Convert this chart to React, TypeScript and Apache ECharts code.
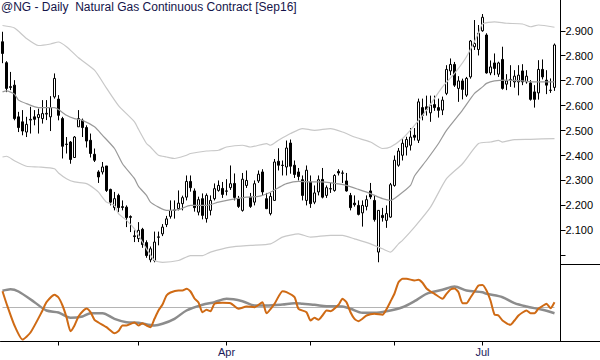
import React, { useEffect, useRef } from 'react';
import * as echarts from 'echarts';

const TITLE = '@NG - Daily  Natural Gas Continuous Contract [Sep16]';
const START_DATE = '2016-01-11';
const HOLIDAYS = ['2016-01-18', '2016-02-15', '2016-03-25', '2016-05-30', '2016-07-04'];
const SLOT_COUNT = 140;
const SHOWN_MONTHS: Record<number, string> = { 3: 'Apr', 6: 'Jul' };

const OPEN = [
  2.856, 2.772, 2.676, 2.682, 2.555, 2.535, 2.494, 2.542, 2.555, 2.552,
  2.548, 2.566, 2.555, 2.635, 2.626, 2.548, 2.444, 2.454, 2.392, 2.515,
  2.541, 2.512, 2.461, 2.405, 2.334, 2.334, 2.358, 2.264, 2.191, 2.240,
  2.195, 2.193, 2.155, 2.078, 2.067, 2.104, 2.051, 1.982, 1.979, 2.072,
  2.086, 2.123, 2.156, 2.180, 2.187, 2.207, 2.233, 2.296, 2.258, 2.173,
  2.227, 2.147, 2.180, 2.227, 2.260, 2.268, 2.258, 2.271, 2.288, 2.227,
  2.180, 2.280, 2.233, 2.213, 2.298, 2.334, 2.227, 2.167, 2.220, 2.377,
  2.361, 2.354, 2.450, 2.361, 2.334, 2.303, 2.220, 2.294, 2.213, 2.254,
  2.304, 2.240, 2.267, 2.260, 2.336, 2.330, 2.298, 2.240, 2.209, 2.200,
  2.170, 2.196, 2.258, 2.220, 2.013, 2.160, 2.140, 2.153, 2.280, 2.361,
  2.401, 2.434, 2.441, 2.481, 2.461, 2.592, 2.595, 2.571, 2.604, 2.592,
  2.582, 2.649, 2.739, 2.765, 2.669, 2.699, 2.642, 2.715, 2.836, 2.825,
  2.900, 2.883, 2.731, 2.771, 2.726, 2.785, 2.686, 2.705, 2.695, 2.695,
  2.739, 2.695, 2.691, 2.655, 2.651, 2.745, 2.702, 2.662, 2.673,
];
const HIGH = [
  2.896, 2.778, 2.735, 2.702, 2.575, 2.582, 2.555, 2.595, 2.582, 2.588,
  2.622, 2.622, 2.638, 2.729, 2.642, 2.555, 2.474, 2.458, 2.478, 2.582,
  2.548, 2.521, 2.488, 2.428, 2.341, 2.374, 2.358, 2.267, 2.254, 2.247,
  2.220, 2.200, 2.160, 2.100, 2.133, 2.110, 2.060, 2.035, 2.095, 2.095,
  2.125, 2.158, 2.220, 2.220, 2.260, 2.239, 2.320, 2.320, 2.268, 2.235,
  2.248, 2.248, 2.240, 2.288, 2.300, 2.294, 2.305, 2.360, 2.328, 2.238,
  2.330, 2.340, 2.250, 2.300, 2.340, 2.345, 2.250, 2.250, 2.386, 2.429,
  2.380, 2.460, 2.464, 2.380, 2.350, 2.320, 2.360, 2.320, 2.280, 2.320,
  2.350, 2.280, 2.290, 2.325, 2.345, 2.340, 2.330, 2.250, 2.240, 2.220,
  2.220, 2.240, 2.290, 2.240, 2.180, 2.190, 2.200, 2.290, 2.400, 2.430,
  2.470, 2.475, 2.510, 2.510, 2.628, 2.628, 2.640, 2.640, 2.640, 2.628,
  2.636, 2.762, 2.789, 2.775, 2.718, 2.708, 2.715, 2.863, 2.943, 2.923,
  2.967, 2.890, 2.781, 2.809, 2.776, 2.836, 2.726, 2.762, 2.742, 2.762,
  2.766, 2.742, 2.702, 2.682, 2.782, 2.785, 2.742, 2.709, 2.849,
];
const LOW = [
  2.770, 2.654, 2.662, 2.541, 2.494, 2.481, 2.474, 2.488, 2.521, 2.488,
  2.528, 2.542, 2.498, 2.628, 2.541, 2.388, 2.408, 2.367, 2.390, 2.515,
  2.474, 2.432, 2.392, 2.374, 2.290, 2.324, 2.254, 2.200, 2.180, 2.173,
  2.180, 2.113, 2.093, 2.053, 2.053, 2.030, 1.990, 1.972, 1.972, 2.040,
  2.077, 2.113, 2.147, 2.147, 2.180, 2.180, 2.220, 2.255, 2.175, 2.160,
  2.144, 2.131, 2.160, 2.220, 2.255, 2.230, 2.240, 2.262, 2.220, 2.190,
  2.175, 2.270, 2.190, 2.200, 2.290, 2.240, 2.185, 2.160, 2.220, 2.340,
  2.320, 2.320, 2.327, 2.310, 2.300, 2.220, 2.200, 2.190, 2.205, 2.240,
  2.228, 2.230, 2.250, 2.255, 2.320, 2.290, 2.255, 2.180, 2.195, 2.160,
  2.115, 2.180, 2.225, 2.135, 1.972, 2.135, 2.110, 2.150, 2.275, 2.355,
  2.380, 2.400, 2.420, 2.460, 2.450, 2.541, 2.560, 2.535, 2.579, 2.552,
  2.562, 2.642, 2.722, 2.675, 2.615, 2.625, 2.635, 2.708, 2.823, 2.801,
  2.896, 2.728, 2.722, 2.722, 2.715, 2.664, 2.662, 2.675, 2.672, 2.641,
  2.682, 2.688, 2.620, 2.592, 2.624, 2.705, 2.646, 2.651, 2.659,
];
const CLOSE = [
  2.809, 2.669, 2.673, 2.548, 2.512, 2.498, 2.525, 2.545, 2.545, 2.564,
  2.568, 2.569, 2.592, 2.709, 2.561, 2.437, 2.446, 2.384, 2.474, 2.548,
  2.512, 2.458, 2.408, 2.381, 2.314, 2.354, 2.260, 2.213, 2.227, 2.191,
  2.192, 2.151, 2.152, 2.075, 2.100, 2.043, 1.999, 2.026, 2.053, 2.074,
  2.113, 2.146, 2.180, 2.182, 2.209, 2.231, 2.296, 2.271, 2.191, 2.223,
  2.160, 2.240, 2.220, 2.267, 2.280, 2.244, 2.257, 2.287, 2.232, 2.196,
  2.305, 2.300, 2.196, 2.287, 2.325, 2.254, 2.187, 2.236, 2.374, 2.361,
  2.360, 2.430, 2.357, 2.324, 2.316, 2.240, 2.341, 2.207, 2.250, 2.303,
  2.233, 2.271, 2.266, 2.320, 2.330, 2.329, 2.258, 2.191, 2.203, 2.164,
  2.200, 2.223, 2.234, 2.143, 2.180, 2.151, 2.167, 2.283, 2.381, 2.418,
  2.449, 2.464, 2.474, 2.473, 2.615, 2.561, 2.584, 2.602, 2.592, 2.581,
  2.622, 2.745, 2.765, 2.682, 2.699, 2.665, 2.709, 2.859, 2.849, 2.890,
  2.954, 2.731, 2.755, 2.749, 2.771, 2.669, 2.699, 2.704, 2.718, 2.722,
  2.695, 2.718, 2.625, 2.625, 2.745, 2.715, 2.682, 2.661, 2.843,
];

// [bar index, price]
const MOVING_AVG = [
  [0, 2.655], [1, 2.659], [3, 2.646], [4, 2.622], [6, 2.608], [9, 2.592], [13, 2.592],
  [14, 2.584], [16, 2.561], [18, 2.548], [20, 2.541], [23, 2.515], [25, 2.481], [28, 2.428],
  [30, 2.367], [33, 2.307], [34, 2.276], [36, 2.240], [37, 2.213], [39, 2.193], [41, 2.180],
  [44, 2.183], [47, 2.200], [51, 2.200], [54, 2.213], [57, 2.223], [61, 2.233], [64, 2.236],
  [67, 2.253], [69, 2.271], [71, 2.287], [74, 2.296], [77, 2.294], [80, 2.294], [84, 2.286],
  [86, 2.280], [89, 2.264], [92, 2.247], [95, 2.227], [97, 2.220], [99, 2.240], [102, 2.280],
  [103, 2.318], [106, 2.381], [109, 2.448], [111, 2.501], [115, 2.582], [118, 2.649],
  [120, 2.675], [121, 2.689], [123, 2.699], [126, 2.702], [130, 2.699], [133, 2.695],
  [138, 2.695],
];
const UPPER_BAND = [
  [0, 2.921], [3, 2.911], [6, 2.869], [9, 2.841], [12, 2.847], [14, 2.855], [16, 2.836],
  [19, 2.792], [23, 2.742], [26, 2.670], [29, 2.600], [33, 2.535], [34, 2.505], [36, 2.448],
  [37, 2.434], [39, 2.401], [41, 2.394], [43, 2.388], [46, 2.401], [47, 2.408], [51, 2.418],
  [54, 2.421], [56, 2.434], [60, 2.441], [62, 2.434], [66, 2.448], [67, 2.441], [69, 2.461],
  [72, 2.488], [75, 2.508], [78, 2.501], [82, 2.508], [85, 2.494], [88, 2.474], [92, 2.454],
  [95, 2.428], [97, 2.434], [100, 2.468], [103, 2.521], [106, 2.582], [110, 2.675],
  [113, 2.729], [116, 2.796], [119, 2.890], [120, 2.927], [123, 2.936], [126, 2.930],
  [130, 2.927], [132, 2.916], [134, 2.923], [138, 2.914],
];
const LOWER_BAND = [
  [0, 2.394], [1, 2.397], [3, 2.379], [6, 2.357], [9, 2.354], [13, 2.347], [14, 2.330],
  [16, 2.307], [18, 2.294], [21, 2.287], [23, 2.267], [24, 2.253], [26, 2.213], [28, 2.200],
  [29, 2.167], [31, 2.140], [33, 2.106], [34, 2.080], [36, 2.026], [38, 1.979], [40, 1.972],
  [44, 1.979], [47, 1.999], [50, 1.999], [52, 2.013], [57, 2.033], [62, 2.040], [67, 2.046],
  [70, 2.073], [74, 2.086], [77, 2.073], [82, 2.080], [85, 2.080], [88, 2.066], [92, 2.046],
  [95, 2.026], [97, 2.013], [99, 2.046], [100, 2.060], [103, 2.113], [107, 2.193],
  [111, 2.307], [115, 2.367], [119, 2.448], [122, 2.454], [124, 2.461], [125, 2.454],
  [128, 2.464], [132, 2.465], [138, 2.468],
];

// oscillator panel, [bar index, value]
const OSC_FAST = [
  [0, 16.3], [1, 4], [3, -18], [5, -32], [7, -25], [10, -3], [11, 5.3], [13, 12.7], [14, 10],
  [15, 2], [16, -9.7], [17, -23.7], [18, -18], [19, -9], [20, -4], [21, -1], [22, -4.7],
  [23, -12.3], [24, -15], [26, -19.7], [28, -25.7], [29, -23.5], [30, -18], [31, -18],
  [33, -15], [34, -18], [35, -15.7], [36, -18], [37, -19.7], [38, -11.3], [39, -3], [40, 3],
  [41, 12], [42, 15], [44, 17], [45, 17], [46, 18.7], [47, 16], [48, 9], [49, 5], [50, -4.7],
  [51, -2.3], [52, -3.7], [53, 3.7], [55, 4.7], [57, 4.3], [59, -1.3], [61, 1], [63, 0.3],
  [65, 5.3], [66, -5.7], [68, 3.7], [70, 16.3], [71, 15.3], [73, 10.3], [74, -1.3],
  [76, -4.7], [77, -13], [78, -10.3], [79, -12.3], [80, -8], [81, -3], [82, -3.7], [84, 2.7],
  [85, 8.7], [86, 5.3], [87, -4.7], [88, -11.3], [89, -13.7], [90, -11.3], [91, -8],
  [93, -6.3], [95, -7.3], [96, -1.7], [97, 6], [98, 14], [99, 25.3], [100, 28.7], [101, 28.7],
  [103, 27], [104, 27.7], [105, 24.7], [106, 19], [107, 16], [108, 13.7], [110, 8.7],
  [111, 13.7], [112, 18], [113, 19], [114, 15.3], [115, 4.3], [116, 4.3], [117, 10],
  [118, 16], [119, 22], [120, 22.5], [121, 17], [122, 7], [123, -7], [124, -8], [125, -13],
  [127, -17.3], [128, -13], [129, -8], [130, -5], [131, -3], [132, -5.7], [133, -5.7],
  [134, -1], [135, 1.5], [136, 3.7], [137, -0.7], [138, 5.3],
];
const OSC_SLOW = [
  [0, 16.7], [2, 18.3], [4, 16], [8, 5.3], [11, -3], [14, -5], [17, -10.3], [20, -9],
  [22, -5.7], [25, -5.7], [28, -11.3], [31, -14.7], [34, -15.3], [38, -18], [40, -16.3],
  [43, -11.3], [46, -3], [50, 2.7], [53, 5.3], [56, 8.7], [60, 6.3], [63, 2], [66, 2],
  [70, 3], [73, 4.3], [75, 3.7], [78, 2.7], [81, 1.3], [85, 1], [87, -1.3], [90, -5.3],
  [93, -5.3], [96, -3.7], [100, 0.3], [103, 6.3], [106, 13.7], [110, 17.7], [113, 21],
  [116, 17], [120, 15.3], [121, 13.7], [125, 10.3], [128, 4.3], [131, 1], [135, -2.3],
  [138, -5.7],
];
const OSC_ZERO = 0;

const PRICE_TICKS = [2.0, 2.1, 2.2, 2.3, 2.4, 2.5, 2.6, 2.7, 2.8, 2.9];
const PRICE_LABELS = [2.1, 2.2, 2.3, 2.4, 2.5, 2.6, 2.7, 2.8, 2.9];

function tradingDays(start: string, count: number): string[] {
  const out: string[] = [];
  const d = new Date(start + 'T00:00:00Z');
  while (out.length < count) {
    const wd = d.getUTCDay();
    const s = d.toISOString().slice(0, 10);
    if (wd !== 0 && wd !== 6 && HOLIDAYS.indexOf(s) < 0) out.push(s);
    d.setUTCDate(d.getUTCDate() + 1);
  }
  return out;
}

const FONT = '"Liberation Sans", Arial, sans-serif';

export default function App() {
  const ref = useRef<HTMLDivElement>(null);
  useEffect(() => {
    document.body.style.margin = '0';
    if (!ref.current) return;
    const chart = echarts.init(ref.current, undefined, { renderer: 'svg' });
    const dates = tradingDays(START_DATE, SLOT_COUNT);
    const month = (i: number) => parseInt(dates[i].slice(5, 7), 10) - 1;
    const isMonthStart = (i: number) => i > 0 && month(i) !== month(i - 1);
    const lastIdx = CLOSE.length - 1;

    const candles = OPEN.map((o, i) => [o, CLOSE[i], LOW[i], HIGH[i]]);

    chart.setOption({
      animation: false,
      backgroundColor: '#ffffff',
      title: {
        text: TITLE,
        left: 1,
        top: 1,
        padding: 0,
        textStyle: { fontFamily: FONT, fontSize: 12, fontWeight: 'normal', color: '#14144a' },
      },
      grid: [
        { left: 0.5, right: 39.5, top: 0, height: 264.5, outerBoundsMode: 'none' },
        { left: 0.5, right: 39.5, top: 264.5, height: 77, outerBoundsMode: 'none' },
      ],
      xAxis: [
        { type: 'category', gridIndex: 0, data: dates, boundaryGap: true, show: false },
        {
          type: 'category',
          gridIndex: 1,
          data: dates,
          boundaryGap: true,
          axisLine: { show: true, onZero: false, lineStyle: { color: '#000', width: 1 } },
          axisTick: {
            show: true,
            alignWithLabel: true,
            length: 4,
            interval: (i: number) => isMonthStart(i),
            lineStyle: { color: '#000', width: 1 },
          },
          axisLabel: {
            show: true,
            interval: (i: number) => isMonthStart(i) && SHOWN_MONTHS[month(i)] !== undefined,
            formatter: (_v: string, i: number) => SHOWN_MONTHS[month(i)] || '',
            fontFamily: FONT,
            fontSize: 11,
            color: '#1a1a5a',
            margin: 5,
          },
          splitLine: { show: false },
        },
      ],
      yAxis: [
        {
          type: 'value',
          gridIndex: 0,
          position: 'right',
          min: 1.9631,
          max: 3.0233,
          axisLine: { show: true, lineStyle: { color: '#000', width: 1 } },
          axisTick: {
            show: true,
            length: 5,
            customValues: PRICE_TICKS,
            lineStyle: { color: '#000', width: 1 },
          },
          axisLabel: {
            show: true,
            customValues: PRICE_LABELS,
            formatter: (v: number) => v.toFixed(3),
            fontFamily: FONT,
            fontSize: 11,
            color: '#000',
            margin: 5,
          },
          splitLine: { show: false },
        },
        {
          type: 'value',
          gridIndex: 1,
          position: 'right',
          min: -34,
          max: 43,
          axisLine: { show: true, lineStyle: { color: '#000', width: 1 } },
          axisTick: { show: false },
          axisLabel: { show: false },
          splitLine: { show: false },
        },
      ],
      graphic: [
        { type: 'line', shape: { x1: 560, y1: 264.5, x2: 600, y2: 264.5 }, style: { stroke: '#000', lineWidth: 1 } },
        { type: 'line', shape: { x1: 560, y1: 341.5, x2: 600, y2: 341.5 }, style: { stroke: '#000', lineWidth: 1 } },
      ],
      series: [
        {
          type: 'candlestick',
          xAxisIndex: 0,
          yAxisIndex: 0,
          data: candles,
          barWidth: 2,
          itemStyle: {
            color: '#ffffff',
            color0: '#000000',
            borderColor: '#000000',
            borderColor0: '#000000',
            borderWidth: 1,
          },
        },
        {
          type: 'line', xAxisIndex: 0, yAxisIndex: 0, data: UPPER_BAND, symbol: 'none', smooth: 0.2,
          lineStyle: { color: '#c8c8c8', width: 1.2 },
        },
        {
          type: 'line', xAxisIndex: 0, yAxisIndex: 0, data: LOWER_BAND, symbol: 'none', smooth: 0.2,
          lineStyle: { color: '#c8c8c8', width: 1.2 },
        },
        {
          type: 'line', xAxisIndex: 0, yAxisIndex: 0, data: MOVING_AVG, symbol: 'none', smooth: 0.2,
          lineStyle: { color: '#999999', width: 1.2 },
        },
        {
          type: 'line', xAxisIndex: 1, yAxisIndex: 1, data: [[0, OSC_ZERO], [lastIdx, OSC_ZERO]], symbol: 'none',
          lineStyle: { color: '#b4b4b4', width: 1 },
        },
        {
          type: 'line', xAxisIndex: 1, yAxisIndex: 1, data: OSC_SLOW, symbol: 'none', smooth: 0.3,
          lineStyle: { color: '#8c8c8c', width: 2.5 },
        },
        {
          type: 'line', xAxisIndex: 1, yAxisIndex: 1, data: OSC_FAST, symbol: 'none', smooth: 0.2,
          lineStyle: { color: '#cf6a14', width: 2 },
        },
      ],
    });
    return () => chart.dispose();
  }, []);
  return <div ref={ref} style={{ width: 600, height: 360 }} />;
}
